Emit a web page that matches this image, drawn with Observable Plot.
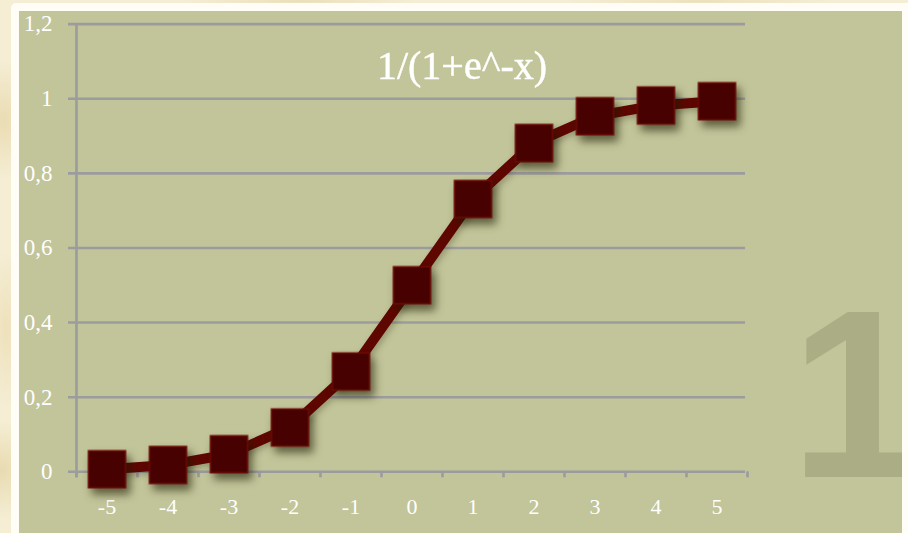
<!DOCTYPE html>
<html>
<head>
<meta charset="utf-8">
<script src="https://cdn.jsdelivr.net/npm/d3@7"></script>
<script src="https://cdn.jsdelivr.net/npm/@observablehq/plot@0.6"></script>
<style>
  html, body { margin: 0; padding: 0; }
  body {
    width: 908px; height: 533px; overflow: hidden; position: relative;
    background:
      radial-gradient(ellipse 30px 60px at 4px 120px, rgba(225,205,150,0.55), transparent),
      radial-gradient(ellipse 20px 80px at 6px 330px, rgba(230,210,160,0.5), transparent),
      radial-gradient(ellipse 40px 50px at 2px 470px, rgba(220,200,140,0.5), transparent),
      radial-gradient(ellipse 120px 10px at 300px 1px, rgba(225,208,160,0.5), transparent),
      radial-gradient(ellipse 140px 10px at 700px 1px, rgba(225,208,160,0.45), transparent),
      #f5eed5;
  }
  #frame {
    position: absolute; left: 11px; top: 3px; width: 897px; height: 540px;
    background: #fffdf6; border-radius: 5px 0 0 0;
  }
  #panel {
    position: absolute; left: 19px; top: 11px; width: 883px; height: 530px;
    background: #c2c499; overflow: hidden;
  }
  #badge { position: absolute; left: 0; top: 0; }
  #chart { position: absolute; left: 0; top: 0; }
  #chart g[aria-label="dot"] { filter: drop-shadow(4px 6px 4px rgba(25,25,0,0.6)); }
  #chart g[aria-label="line"] { filter: drop-shadow(2px 3px 3px rgba(25,25,0,0.25)); }
</style>
</head>
<body>
<div id="frame"></div>
<div id="panel">
  <svg id="badge" width="883" height="530" font-family="Liberation Sans" font-weight="bold"
       font-size="240" fill="#abad85">
    <text x="771" y="466">1</text>
    <text x="873" y="466">1</text>
  </svg>
</div>
<div id="chart"></div>
<script>
// Logistic curve sampled at integer x
const xs = [-5, -4, -3, -2, -1, 0, 1, 2, 3, 4, 5];
const ys = [0.0067, 0.018, 0.047, 0.119, 0.269, 0.5, 0.731, 0.881, 0.953, 0.982, 0.993];
const yTicks = [0, 0.2, 0.4, 0.6, 0.8, 1, 1.2];
const title = "1/(1+e^-x)";

const points = xs.map((x, i) => ({x, y: ys[i]}));
// category boundaries, where the axis tick marks sit
const edges = [...xs.map(x => x - 0.5), xs[xs.length - 1] + 0.5];

const gridColor = "#9c9c9e";
const serif = "Liberation Serif";

const chart = Plot.plot({
  width: 908,
  height: 533,
  marginLeft: 76,
  marginRight: 161,
  marginTop: 23.6,
  marginBottom: 61.7,
  x: {domain: [edges[0], edges[edges.length - 1]], label: null},
  y: {domain: [0, 1.2], label: null},
  style: {background: "transparent", fontFamily: serif, color: "#fff", overflow: "visible"},
  marks: [
    Plot.ruleY(yTicks, {stroke: gridColor, strokeWidth: 2.6, insetLeft: -8, insetRight: 2}),
    Plot.ruleX([edges[0]], {stroke: gridColor, strokeWidth: 2.6, insetBottom: -6}),
    Plot.axisX(edges, {tickSize: 6, tickFormat: () => "", label: null, stroke: gridColor, strokeWidth: 2.6}),
    Plot.axisX(xs, {tickSize: 0, tickPadding: 27, fontSize: 22, fill: "#fff", fontFamily: serif,
      label: null, tickFormat: d => String(d)}),
    Plot.axisY(yTicks, {tickSize: 0, tickPadding: 24, fontSize: 23, fill: "#fff", fontFamily: serif,
      label: null, tickFormat: d => String(d).replace(".", ",")}),
    Plot.line(points, {x: "x", y: "y", stroke: "#5e0600", strokeWidth: 10, strokeLinejoin: "round"}),
    Plot.dot(points, {x: "x", y: "y", symbol: "square", r: 20.9, fill: "#460100",
      stroke: "#6e0c06", strokeWidth: 1.5}),
    Plot.text([title], {frameAnchor: "top", lineAnchor: "middle", dx: 50, dy: 42, fontSize: 40,
      fill: "#fff", stroke: "#fff", strokeWidth: 0.5, fontFamily: serif, letterSpacing: 1})
  ]
});

document.getElementById("chart").appendChild(chart);
</script>
</body>
</html>
